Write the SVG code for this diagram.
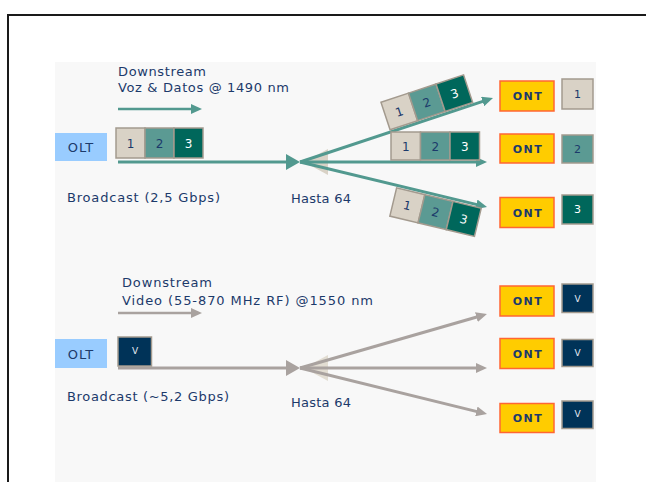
<svg xmlns="http://www.w3.org/2000/svg" width="646" height="482" viewBox="0 0 646 482">
<defs>
<style>
.t{font-family:"DejaVu Sans",Verdana,sans-serif;font-size:13px;fill:#1c3a6b}
.olt{fill:#99ccff}
.oltt{font-family:"DejaVu Sans",Verdana,sans-serif;font-size:13px;fill:#1c3a6b;text-anchor:middle;letter-spacing:1px}
.ont{fill:#ffcc00;stroke:#ff6633;stroke-width:1.5}
.ontt{font-family:"DejaVu Sans",Verdana,sans-serif;font-size:11px;font-weight:bold;fill:#1c3a6b;text-anchor:middle;letter-spacing:1.5px}
.p1{fill:#d9d2c6;stroke:#a39a8e;stroke-width:1.5}
.p2{fill:#5b9a93;stroke:#a39a8e;stroke-width:1.5}
.p3{fill:#00675b;stroke:#a39a8e;stroke-width:1.5}
.pv{fill:#003358;stroke:#a39a8e;stroke-width:1.5}
.d{font-family:"DejaVu Sans",Verdana,sans-serif;font-size:12px;fill:#1c3a6b;text-anchor:middle}
.dw{font-family:"DejaVu Sans",Verdana,sans-serif;font-size:12px;fill:#ffffff;text-anchor:middle}
.sd{font-family:"DejaVu Sans",Verdana,sans-serif;font-size:11px;fill:#1c3a6b;text-anchor:middle}
.sdw{font-family:"DejaVu Sans",Verdana,sans-serif;font-size:11px;fill:#ffffff;text-anchor:middle}
.vt{font-family:"DejaVu Sans",Verdana,sans-serif;font-size:9px;fill:#e8ecf4;text-anchor:middle}
.lt{stroke:#52998f;stroke-width:3;fill:none}
.lg{stroke:#a9a29f;stroke-width:3;fill:none}
.at{stroke:#52998f;stroke-width:2.5;fill:none}
.ag{stroke:#a9a29f;stroke-width:2.5;fill:none}
</style>
<marker id="mt" markerUnits="userSpaceOnUse" markerWidth="11" markerHeight="10" refX="5" refY="5" orient="auto"><path d="M0,0 L11,5 L0,10 z" fill="#52998f"/></marker>
<marker id="mg" markerUnits="userSpaceOnUse" markerWidth="11" markerHeight="10" refX="5" refY="5" orient="auto"><path d="M0,0 L11,5 L0,10 z" fill="#a9a29f"/></marker>
</defs>
<rect x="0" y="0" width="646" height="482" fill="#ffffff"/>
<rect x="8" y="15" width="700" height="600" fill="#ffffff" stroke="#1a1a1a" stroke-width="2"/>
<rect x="55" y="62" width="541" height="420" fill="#f8f8f8"/>

<!-- top section labels -->
<text class="t" x="118" y="76" textLength="88">Downstream</text>
<text class="t" x="118" y="92" textLength="171">Voz &amp; Datos @ 1490 nm</text>
<text class="t" x="67" y="202" textLength="153">Broadcast (2,5 Gbps)</text>
<text class="t" x="291" y="203" textLength="60">Hasta 64</text>

<!-- bottom section labels -->
<text class="t" x="122" y="287" textLength="90">Downstream</text>
<text class="t" x="122" y="305" textLength="251">Video (55-870 MHz RF) @1550 nm</text>
<text class="t" x="67" y="401" textLength="162">Broadcast (~5,2 Gbps)</text>
<text class="t" x="291" y="407" textLength="60">Hasta 64</text>

<g id="connectors">
<!-- top -->
<line class="at" x1="118" y1="109" x2="196" y2="109" marker-end="url(#mt)"/>
<polygon points="304,162 328,149 328,175" fill="#d9d2c6"/>
<line class="lt" x1="118" y1="162" x2="288" y2="162"/>
<polygon points="286,154 300,162 286,170" fill="#52998f"/>
<line class="lt" x1="300" y1="162" x2="487.3" y2="99.9" marker-end="url(#mt)"/>
<line class="lt" x1="300" y1="162" x2="481" y2="162" marker-end="url(#mt)"/>
<line class="lt" x1="300" y1="162" x2="481.2" y2="205.6" marker-end="url(#mt)"/>
<!-- bottom -->
<line class="ag" x1="118" y1="313" x2="196" y2="313" marker-end="url(#mg)"/>
<polygon points="304,368 328,355 328,381" fill="#e2ddd2"/>
<line class="lg" x1="118" y1="368" x2="288" y2="368"/>
<polygon points="286,360 300,368 286,376" fill="#a9a29f"/>
<line class="lg" x1="300" y1="368" x2="481.2" y2="315.7" marker-end="url(#mg)"/>
<line class="lg" x1="300" y1="368" x2="481" y2="368" marker-end="url(#mg)"/>
<line class="lg" x1="300" y1="368" x2="481.2" y2="412.6" marker-end="url(#mg)"/>
</g>

<g id="olt-top">
<rect class="olt" x="55" y="133" width="52" height="28"/>
<text class="oltt" x="81" y="152">OLT</text>
</g>
<g id="olt-bottom">
<rect class="olt" x="55" y="339" width="52" height="29"/>
<text class="oltt" x="81" y="359">OLT</text>
</g>

<g id="packet-olt">
<rect class="p1" x="116" y="128" width="29" height="30"/>
<rect class="p2" x="145" y="128" width="29" height="30"/>
<rect class="p3" x="174" y="128" width="29" height="30"/>
<text class="d" x="130.5" y="147.5">1</text>
<text class="d" x="159.5" y="147.5">2</text>
<text class="dw" x="188.5" y="147.5">3</text>
</g>

<g id="packet-up" transform="translate(432,118) rotate(-18.3)">
<rect class="p1" x="-43.5" y="-31" width="29" height="29"/>
<rect class="p2" x="-14.5" y="-31" width="29" height="29"/>
<rect class="p3" x="14.5" y="-31" width="29" height="29"/>
<text class="d" x="-29" y="-12">1</text>
<text class="d" x="0" y="-12">2</text>
<text class="dw" x="29" y="-12">3</text>
</g>

<g id="packet-mid">
<rect class="p1" x="391" y="132" width="29.5" height="28"/>
<rect class="p2" x="420.5" y="132" width="29.5" height="28"/>
<rect class="p3" x="450" y="132" width="29.5" height="28"/>
<text class="d" x="405.75" y="150.5">1</text>
<text class="d" x="435.25" y="150.5">2</text>
<text class="dw" x="464.75" y="150.5">3</text>
</g>

<g id="packet-down" transform="translate(439.5,195.6) rotate(13.5)">
<rect class="p1" x="-43.5" y="2.5" width="29" height="29"/>
<rect class="p2" x="-14.5" y="2.5" width="29" height="29"/>
<rect class="p3" x="14.5" y="2.5" width="29" height="29"/>
<text class="d" x="-29" y="21.5">1</text>
<text class="d" x="0" y="21.5">2</text>
<text class="dw" x="29" y="21.5">3</text>
</g>

<g id="ont-1">
<rect class="ont" x="500" y="81" width="54" height="30"/>
<text class="ontt" x="528" y="100">ONT</text>
<rect class="p1" x="562" y="79" width="31" height="30"/>
<text class="sd" x="577.5" y="98">1</text>
</g>
<g id="ont-2">
<rect class="ont" x="500" y="134" width="54" height="29"/>
<text class="ontt" x="528" y="152.5">ONT</text>
<rect class="p2" x="562" y="135" width="31" height="28"/>
<text class="sd" x="577.5" y="153">2</text>
</g>
<g id="ont-3">
<rect class="ont" x="500" y="197.5" width="54" height="30"/>
<text class="ontt" x="528" y="216.5">ONT</text>
<rect class="p3" x="562" y="195" width="31" height="29"/>
<text class="sdw" x="577.5" y="213">3</text>
</g>

<g id="video-olt">
<rect class="pv" x="118" y="337" width="33.5" height="29"/>
<text class="vt" x="135" y="354">V</text>
</g>

<g id="ont-v1">
<rect class="ont" x="500" y="286" width="54" height="30"/>
<text class="ontt" x="528" y="305">ONT</text>
<rect class="pv" x="562" y="284" width="31" height="28.5"/>
<text class="vt" x="577.5" y="302">V</text>
</g>
<g id="ont-v2">
<rect class="ont" x="500" y="338.5" width="54" height="30"/>
<text class="ontt" x="528" y="357.5">ONT</text>
<rect class="pv" x="562" y="339.5" width="31" height="27"/>
<text class="vt" x="577.5" y="356">V</text>
</g>
<g id="ont-v3">
<rect class="ont" x="500" y="403.5" width="54" height="29"/>
<text class="ontt" x="528" y="422">ONT</text>
<rect class="pv" x="562" y="401" width="31" height="27.5"/>
<text class="vt" x="577.5" y="417">V</text>
</g>
</svg>
